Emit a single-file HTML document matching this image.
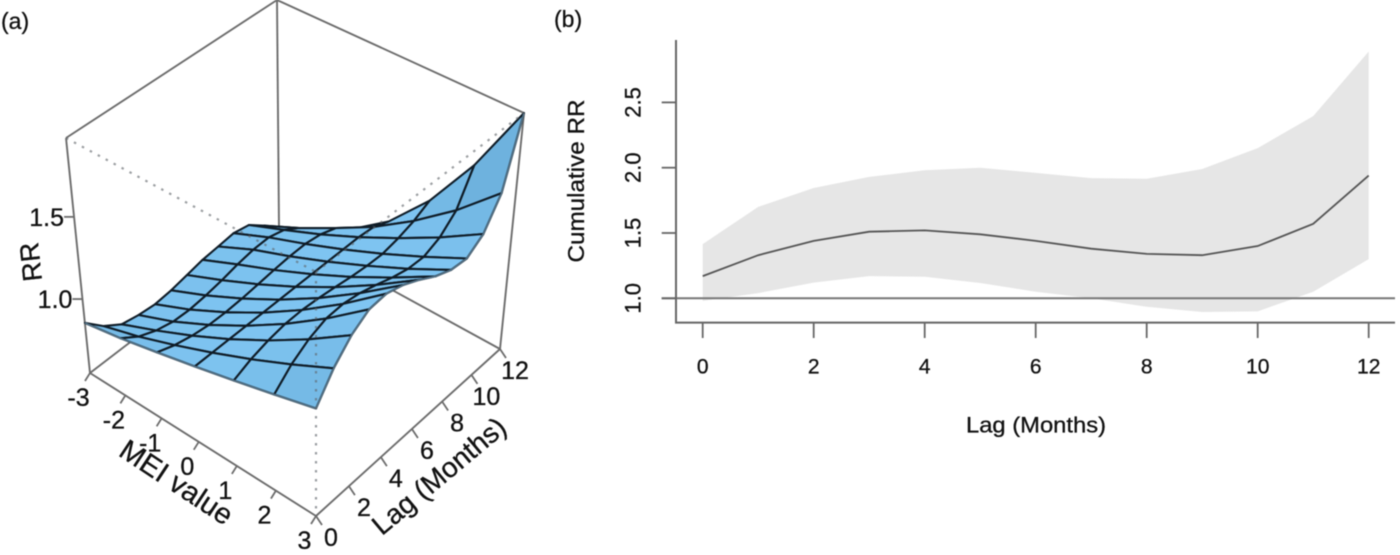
<!DOCTYPE html>
<html>
<head>
<meta charset="utf-8">
<title>RR surface and cumulative RR by lag</title>
<style>
html,body{margin:0;padding:0;background:#fff;width:1400px;height:555px;overflow:hidden}
svg{display:block;font-family:"Liberation Sans",sans-serif}
#plots{filter:blur(.4px)}
text{stroke:#111;stroke-width:.3px}
</style>
</head>
<body>
<svg id="chart" width="1400" height="555" viewBox="0 0 1400 555">
  <g id="plots">
    <g id="panelA"></g>
    <g id="panelB"></g>
    <text x="1" y="29" font-size="23" fill="#111">(a)</text>
    <text x="554" y="27" font-size="23" fill="#111">(b)</text>
    <text transform="translate(31,262) rotate(-96)" font-size="27" fill="#111" text-anchor="middle" dominant-baseline="central">RR</text>
    <text transform="translate(176,483) rotate(33.5)" font-size="29" fill="#111" text-anchor="middle" dominant-baseline="central">MEI value</text>
    <text transform="translate(439,476) rotate(-40)" font-size="28" fill="#111" text-anchor="middle" dominant-baseline="central">Lag (Months)</text>
    <text transform="translate(576,181) rotate(-90)" font-size="23" fill="#111" text-anchor="middle" dominant-baseline="central" textLength="163" lengthAdjust="spacingAndGlyphs">Cumulative RR</text>
    <text x="1036" y="425" font-size="22" fill="#111" text-anchor="middle" dominant-baseline="central" textLength="140" lengthAdjust="spacingAndGlyphs">Lag (Months)</text>
  </g>
</svg>
<script>
/* ---------- data: panel (a) surface ---------- */
const meiValues = [-3, -2, -1, 0, 1, 2, 3];
const lagValues = [0, 1, 2, 3, 4, 5, 6, 7, 8, 9, 10, 11, 12];
const rrMeiMinus3 = [0.855, 0.757, 0.69, 0.67, 0.66, 0.67, 0.69, 0.71, 0.72, 0.73, 0.71, 0.635, 0.55];
const rrMeiMinus2 = [0.895, 0.826, 0.784, 0.76, 0.756, 0.766, 0.784, 0.806, 0.823, 0.826, 0.80, 0.74, 0.666];
const rrMeiMinus1 = [0.946, 0.909, 0.886, 0.872, 0.87, 0.876, 0.886, 0.898, 0.907, 0.909, 0.894, 0.86, 0.78];
const rrMei0 = [1, 1, 1, 1, 1, 1, 1, 1, 1, 1, 1, 0.99, 0.95];
const rrMei1 = [1.057, 1.10, 1.129, 1.147, 1.15, 1.142, 1.129, 1.113, 1.103, 1.10, 1.119, 1.15, 1.20];
const rrMei2 = [1.117, 1.21, 1.275, 1.316, 1.322, 1.305, 1.275, 1.24, 1.215, 1.21, 1.251, 1.34, 1.54];
const rrMei3 = [1.18, 1.33, 1.44, 1.51, 1.52, 1.49, 1.44, 1.38, 1.34, 1.33, 1.40, 1.57, 1.98];
const meiTicks = ["-3", "-2", "-1", "0", "1", "2", "3"];
const lagTicks = ["0", "2", "4", "6", "8", "10", "12"];
const rrTicks = ["1.0", "1.5"];

/* ---------- data: panel (b) lag response ---------- */
const lagMonths = [0, 1, 2, 3, 4, 5, 6, 7, 8, 9, 10, 11, 12];
const cumulativeRR = [1.17, 1.33, 1.44, 1.51, 1.52, 1.49, 1.44, 1.38, 1.34, 1.33, 1.40, 1.57, 1.94];
const upperCI = [1.415, 1.70, 1.845, 1.93, 1.98, 2.00, 1.96, 1.92, 1.915, 1.99, 2.15, 2.395, 2.89];
const lowerCI = [0.98, 1.04, 1.12, 1.17, 1.165, 1.117, 1.05, 1.00, 0.935, 0.895, 0.90, 1.05, 1.30];
const yTicksB = ["1.0", "1.5", "2.0", "2.5"];
const xTicksB = ["0", "2", "4", "6", "8", "10", "12"];

const surface = [rrMeiMinus3, rrMeiMinus2, rrMeiMinus1, rrMei0, rrMei1, rrMei2, rrMei3];
const NS = "http://www.w3.org/2000/svg";
const gA = document.getElementById("panelA");
const gB = document.getElementById("panelB");

function mk(tag, attrs, parent, text) {
  const n = document.createElementNS(NS, tag);
  for (const k in attrs) n.setAttribute(k, attrs[k]);
  if (text !== undefined) n.textContent = text;
  parent.appendChild(n);
  return n;
}
function homography(p0, p1, p2, p3) {
  const dx1 = p1[0] - p2[0], dx2 = p3[0] - p2[0], sx = p0[0] - p1[0] + p2[0] - p3[0];
  const dy1 = p1[1] - p2[1], dy2 = p3[1] - p2[1], sy = p0[1] - p1[1] + p2[1] - p3[1];
  const det = dx1 * dy2 - dx2 * dy1;
  const g = (sx * dy2 - dx2 * sy) / det, h = (dx1 * sy - sx * dy1) / det;
  const a = p1[0] - p0[0] + g * p1[0], b = p3[0] - p0[0] + h * p3[0];
  const d = p1[1] - p0[1] + g * p1[1], e = p3[1] - p0[1] + h * p3[1];
  return function (u, v) {
    const q = g * u + h * v + 1;
    return [(a * u + b * v + p0[0]) / q, (d * u + e * v + p0[1]) / q];
  };
}

/* ---------- panel (a): perspective axis function ---------- */
const zMin = 0.55, zMax = 1.98, meiMin = -3, meiMax = 3, lagMin = 0, lagMax = 12;
const ground = homography([90, 373], [316, 516], [500, 349], [279, 228]);
const roof = homography([66, 138], [316, 272], [524, 113], [277, 0]);
function project(mei, lag, rr) {
  const u = (mei - meiMin) / (meiMax - meiMin);
  const v = (lag - lagMin) / (lagMax - lagMin);
  const w = (rr - zMin) / (zMax - zMin);
  const a = ground(u, v), b = roof(u, v);
  return [a[0] + (b[0] - a[0]) * w, a[1] + (b[1] - a[1]) * w];
}
function seg(p, q, stroke, width, parent, dash) {
  const attrs = {x1: p[0], y1: p[1], x2: q[0], y2: q[1], stroke: stroke, "stroke-width": width};
  if (dash) attrs["stroke-dasharray"] = dash;
  return mk("line", attrs, parent);
}
const boxColor = "#6c6c6c";
const boxEdges = [
  [[meiMin, lagMin, zMin], [meiMin, lagMin, zMax]],
  [[meiMax, lagMax, zMin], [meiMax, lagMax, zMax]],
  [[meiMin, lagMax, zMin], [meiMin, lagMax, zMax]],
  [[meiMin, lagMin, zMax], [meiMin, lagMax, zMax]],
  [[meiMin, lagMax, zMax], [meiMax, lagMax, zMax]],
  [[meiMin, lagMin, zMin], [meiMin, lagMax, zMin]],
  [[meiMin, lagMax, zMin], [meiMax, lagMax, zMin]],
  [[meiMin, lagMin, zMin], [meiMax, lagMin, zMin]],
  [[meiMax, lagMin, zMin], [meiMax, lagMax, zMin]]
];
boxEdges.forEach(function (e) {
  const el = seg(project.apply(null, e[0]), project.apply(null, e[1]), boxColor, 1.9, gA);
  
  
});

/* surface facets, painted back to front */
function mix(t) {
  const a = [128, 198, 243], b = [110, 178, 222];
  return "rgb(" + a.map(function (c, i) { return Math.round(c + (b[i] - c) * t); }).join(",") + ")";
}
for (let j = lagValues.length - 2; j >= 0; j--) {
  for (let i = 0; i < meiValues.length - 1; i++) {
    const r00 = surface[i][j], r01 = surface[i][j + 1], r10 = surface[i + 1][j], r11 = surface[i + 1][j + 1];
    const pts = [
      project(meiValues[i], lagValues[j], r00),
      project(meiValues[i + 1], lagValues[j], r10),
      project(meiValues[i + 1], lagValues[j + 1], r11),
      project(meiValues[i], lagValues[j + 1], r01)
    ];
    const slope = Math.abs((r01 + r11 - r00 - r10) / 2);
    const t = Math.min(1, slope / 0.1 * 0.5 + (1 - i / 5) * 0.15);
    const facet = mk("polygon", {
      points: pts.map(function (p) { return p[0].toFixed(1) + "," + p[1].toFixed(1); }).join(" "),
      fill: mix(t), stroke: "#0f1c27", "stroke-width": 2.1, "stroke-linejoin": "round"
    }, gA);
    
    
  }
}
/* softer outline along the two front edges */
const frontEdge = mk("polyline", {
  points: meiValues.map(function (m, i) { return project(m, lagValues[0], surface[i][0]).join(","); })
    .concat(lagValues.map(function (l, j) { return project(meiMax, l, rrMei3[j]).join(","); })).join(" "),
  fill: "none", stroke: "#56758a", "stroke-width": 1.6
}, gA);



/* dotted front box edges drawn through the surface */
const dottedEdges = [
  [[meiMin, lagMin, zMax], [meiMax, lagMin, zMax]],
  [[meiMax, lagMin, zMax], [meiMax, lagMax, zMax]],
  [[meiMax, lagMin, zMax], [meiMax, lagMin, zMin]]
];
dottedEdges.forEach(function (e) {
  const el = seg(project.apply(null, e[0]), project.apply(null, e[1]), "rgba(95,100,105,.62)", 2.2, gA, "2.5 6.5");
  
  
});

/* surface axes ticks and labels */
meiTicks.forEach(function (label) {
  const p = project(+label, lagMin, zMin);
  const tick = seg(p, [p[0] - 5, p[1] + 8], boxColor, 1.8, gA);
  
  
  const txt = mk("text", {x: p[0] - 11.5, y: p[1] + 25, "font-size": 25, fill: "#111", "text-anchor": "middle", "dominant-baseline": "central"}, gA, label);
  
  
});
lagTicks.forEach(function (label) {
  const p = project(meiMax, +label, zMin);
  const tick = seg(p, [p[0] + 6, p[1] + 9], boxColor, 1.8, gA);
  
  
  const txt = mk("text", {x: p[0] + 15, y: p[1] + 22, "font-size": 25, fill: "#111", "text-anchor": "middle", "dominant-baseline": "central"}, gA, label);
  
  
});
rrTicks.forEach(function (label) {
  const p = project(meiMin, lagMin, +label);
  const tick = seg(p, [p[0] - 10, p[1]], boxColor, 1.8, gA);
  
  
  const txt = mk("text", {x: p[0] - 10, y: p[1] + 1, "font-size": 25, fill: "#111", "text-anchor": "end", "dominant-baseline": "central"}, gA, label);
  
  
});

/* ---------- panel (b) ---------- */
function xB(lag) { return 702.7 + lag * 55.5; }
function yB(rr) { return 298.3 - (rr - 1) * 130.6; }
const axisColor = "#666";

const band = mk("polygon", {
  points: lagMonths.map(function (l, i) { return xB(l) + "," + yB(upperCI[i]); })
    .concat(lagMonths.map(function (l, i) { return xB(l) + "," + yB(lowerCI[i]); }).reverse()).join(" "),
  fill: "#e6e6e6"
}, gB);



const refLine = seg([661.7, yB(1)], [1395, yB(1)], "#777", 2, gB);



const rrLine = mk("polyline", {
  points: lagMonths.map(function (l, i) { return xB(l) + "," + yB(cumulativeRR[i]); }).join(" "),
  fill: "none", stroke: "#555", "stroke-width": 1.8
}, gB);



const yAxis = seg([676, 40], [676, 323], axisColor, 2, gB);


const xAxis = seg([675, 322.6], [1395, 322.6], axisColor, 2, gB);



yTicksB.forEach(function (label) {
  const y = yB(+label);
  const tick = seg([661.7, y], [676, y], axisColor, 1.8, gB);
  
  
  const txt = mk("text", {transform: "translate(633," + y + ") rotate(-90)", "font-size": 22, fill: "#111", "text-anchor": "middle", "dominant-baseline": "central"}, gB, label);
  
  
});
xTicksB.forEach(function (label) {
  const x = xB(+label);
  const tick = seg([x, 322], [x, 338], axisColor, 1.8, gB);
  
  
  const txt = mk("text", {x: x, y: 367, "font-size": 21, fill: "#111", "text-anchor": "middle", "dominant-baseline": "central"}, gB, label);
  
  
});
</script>
</body>
</html>
